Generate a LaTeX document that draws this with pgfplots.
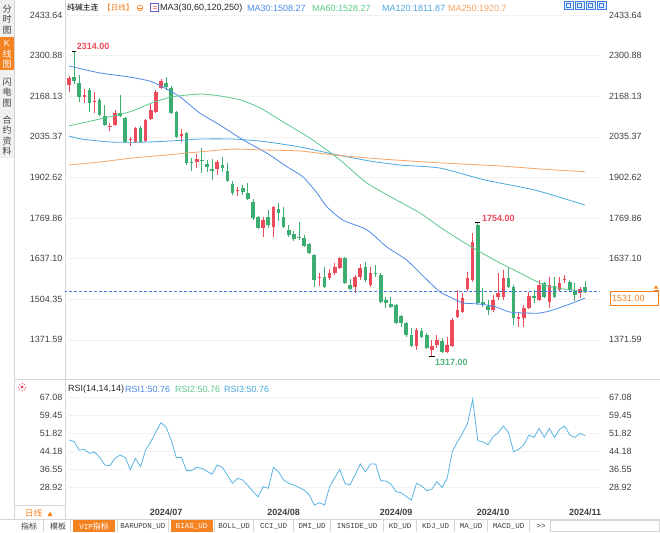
\documentclass[border=0pt]{standalone}
\usepackage{pgfplots}
\pgfplotsset{compat=1.18}
\usepackage{pgfplotstable}
\usepackage{fontspec}
\setmainfont{Liberation Sans}
\newfontfamily\cjk{Noto Sans CJK SC}
\newfontfamily\mono{Liberation Mono}

\definecolor{cred}{HTML}{EB4B5A}
\definecolor{cgreen}{HTML}{3DAE72}
\definecolor{cma30}{HTML}{4C8BE8}
\definecolor{cma60}{HTML}{5BC98B}
\definecolor{cma120}{HTML}{4AA8DE}
\definecolor{cma250}{HTML}{F5A465}
\definecolor{crsi}{HTML}{5BB5E3}
\definecolor{cline}{HTML}{3C7FE0}
\definecolor{corange}{HTML}{F58220}
\definecolor{ctick}{HTML}{404040}
\definecolor{cborder}{HTML}{D6D6D6}
\definecolor{cgrid}{HTML}{F2F2F2}
\definecolor{cside}{HTML}{F0F0F0}
\definecolor{cicon}{HTML}{6A5ACD}

% daily candles, index 0 = 2024-06-03
\pgfplotstableread{
i o h l c
0 2205 2234 2182 2228
1 2231 2314 2208 2218
2 2211 2237 2149 2166
3 2166 2192 2146 2172
4 2188 2195 2117 2146
5 2149 2182 2113 2152
6 2156 2162 2103 2107
7 2103 2139 2071 2074
8 2067 2081 2054 2071
9 2074 2123 2071 2113
10 2113 2172 2100 2103
11 2097 2100 2015 2018
12 2025 2035 2005 2028
13 2018 2067 2015 2064
14 2064 2071 2015 2018
15 2022 2094 2018 2090
16 2094 2146 2090 2123
17 2117 2188 2113 2182
18 2195 2224 2192 2218
19 2211 2231 2188 2198
20 2195 2201 2110 2113
21 2117 2120 2031 2035
22 2038 2061 2018 2045
23 2048 2051 1943 1950
24 1953 1966 1924 1950
25 1953 1979 1933 1963
26 1960 1999 1917 1956
27 1946 1960 1920 1937
28 1930 1963 1894 1924
29 1930 1960 1910 1953
30 1943 1969 1920 1933
31 1924 1950 1888 1891
32 1881 1891 1845 1852
33 1858 1871 1842 1861
34 1868 1878 1845 1855
35 1852 1884 1829 1832
36 1822 1832 1763 1770
37 1773 1776 1734 1737
38 1737 1773 1708 1763
39 1773 1796 1737 1747
40 1740 1809 1708 1806
41 1799 1819 1760 1786
42 1773 1806 1737 1740
43 1731 1747 1708 1714
44 1718 1727 1695 1701
45 1708 1757 1698 1704
46 1704 1714 1675 1678
47 1685 1688 1652 1655
48 1649 1652 1544 1567
49 1574 1590 1547 1577
50 1577 1610 1541 1544
51 1574 1603 1567 1590
52 1590 1623 1585 1610
53 1606 1642 1603 1639
54 1639 1642 1554 1557
55 1551 1570 1534 1538
56 1544 1583 1525 1577
57 1577 1619 1567 1606
58 1610 1626 1561 1567
59 1551 1610 1544 1590
60 1590 1616 1577 1587
61 1583 1590 1492 1495
62 1502 1512 1476 1492
63 1489 1512 1476 1479
64 1485 1489 1423 1427
65 1449 1453 1413 1427
66 1427 1430 1381 1387
67 1387 1410 1348 1351
68 1351 1410 1338 1404
69 1400 1410 1377 1381
70 1387 1394 1341 1345
71 1338 1371 1317 1351
72 1354 1387 1345 1371
73 1368 1377 1328 1332
74 1332 1381 1328 1354
75 1351 1443 1348 1436
76 1446 1534 1443 1469
77 1462 1525 1459 1508
78 1538 1593 1531 1574
79 1567 1721 1561 1691
80 1747 1754 1485 1492
81 1495 1541 1479 1489
82 1482 1502 1453 1469
83 1469 1518 1462 1502
84 1511 1590 1502 1525
85 1511 1600 1502 1574
86 1574 1606 1541 1544
87 1544 1551 1420 1443
88 1440 1462 1413 1446
89 1443 1485 1413 1476
90 1476 1528 1472 1515
91 1515 1534 1492 1508
92 1502 1567 1498 1551
93 1557 1561 1508 1512
94 1495 1577 1476 1551
95 1548 1577 1508 1512
96 1534 1577 1528 1557
97 1567 1583 1557 1570
98 1561 1567 1528 1534
99 1534 1557 1498 1518
100 1525 1544 1508 1538
101 1544 1564 1525 1531
}\kdata

\pgfplotstableread{
i r
0 49.0
1 48.3
2 44.7
3 45.0
4 43.3
5 43.9
6 41.6
7 38.4
8 38.1
9 41.2
10 42.6
11 41.6
12 36.4
13 41.2
14 37.7
15 44.7
16 48.2
17 52.5
18 56.3
19 54.4
20 49.0
21 41.6
22 41.6
23 36.0
24 36.0
25 37.4
26 37.0
27 35.7
28 34.5
29 38.4
30 37.4
31 34.0
32 30.6
33 32.7
34 32.0
35 29.7
36 27.1
37 24.9
38 29.2
39 28.5
40 37.4
41 35.5
42 32.0
43 30.6
44 29.9
45 28.8
46 27.8
47 25.7
48 21.4
49 22.4
50 21.4
51 29.2
52 33.0
53 36.5
54 30.6
55 29.9
56 34.3
57 38.8
58 35.5
59 38.8
60 38.8
61 31.7
62 31.6
63 30.3
64 27.1
65 26.6
66 25.0
67 23.5
68 30.6
69 29.5
70 27.5
71 28.1
72 31.3
73 28.9
74 32.7
75 44.0
76 48.2
77 51.8
78 56.1
79 66.2
80 48.7
81 48.2
82 46.9
83 50.4
84 52.1
85 54.9
86 52.1
87 44.0
88 45.0
89 46.9
90 51.1
91 50.1
92 53.9
93 50.1
94 53.9
95 50.1
96 53.5
97 54.9
98 51.1
99 50.1
100 51.8
101 50.76
}\rsidata

\pgfplotsset{
  panel/.style={scale only axis, width=535pt, xmin=-0.783, xmax=103.914,
    axis line style={draw=none}, tick style={draw=none}, major tick length=0pt,
    xtick=\empty, clip mode=individual,
    yticklabel style={font=\fontsize{9}{10}\selectfont, text=ctick, inner sep=0pt}},
  leftlab/.style={yticklabel pos=left, yticklabel style={anchor=east, xshift=-2.5pt},
    ymajorgrids, major grid style={cgrid, line width=0.5pt}},
  rightlab/.style={yticklabel pos=right, yticklabel style={anchor=west, xshift=9pt}},
  mainpanel/.style={panel, at={(65pt,-5pt)}, anchor=north west, height=371pt,
    ymin=1253.1, ymax=2466.3,
    ytick={1371.59,1504.35,1637.10,1769.86,1902.62,2035.37,2168.13,2300.88,2433.64},
    yticklabels={1371.59,1504.35,1637.10,1769.86,1902.62,2035.37,2168.13,2300.88,2433.64}},
  rsipanel/.style={panel, at={(65pt,-382pt)}, anchor=north west, height=125pt,
    ymin=20.57, ymax=73.57,
    ytick={28.92,36.55,44.18,51.82,59.45,67.08},
    yticklabels={28.92,36.55,44.18,51.82,59.45,67.08}},
  wick/.style={draw=none, mark=none, forget plot,
    error bars/.cd, y dir=plus, y explicit, error mark=none,
    error bar style={draw=#1, line width=0.9pt, solid}},
  body/.style={draw=none, mark=none, forget plot,
    error bars/.cd, y dir=plus, y explicit, error mark=none,
    error bar style={draw=#1, line width=3.6pt, solid}},
  isred/.style={restrict expr to domain={\thisrow{c}-\thisrow{o}}{0.5:100000}},
  isgreen/.style={restrict expr to domain={\thisrow{c}-\thisrow{o}}{-100000:-0.5}},
}

\begin{document}
\begin{tikzpicture}
\begin{scope}[x=1pt,y=-1pt]
\path[use as bounding box] (0,0) rectangle (660,532);
\fill[white] (0,0) rectangle (660,532);
% side bar
\fill[cside] (0,0) rectangle (14,158);
\fill[corange] (0,37) rectangle (14,70);
\draw[cborder] (14.5,0) -- (14.5,519);
\draw[cborder] (65.5,0) -- (65.5,519);
\draw[cborder] (14,379.5) -- (660,379.5);
\draw[cborder] (14,505.5) -- (65.5,505.5);
\draw[cborder] (0,519.5) -- (660,519.5);
\begin{scope}[every node/.style={font=\cjk\fontsize{9}{9}\selectfont, text=ctick, inner sep=0pt}]
\node at (7,9) {分}; \node at (7,19.5) {时}; \node at (7,30) {图};
\node[text=white, font=\fontsize{9}{9}\selectfont] at (7,43.5) {K};
\node[text=white] at (7,54) {线}; \node[text=white] at (7,64.5) {图};
\node at (7,82) {闪}; \node at (7,92.5) {电}; \node at (7,103) {图};
\node at (7,120) {合}; \node at (7,130.5) {约}; \node at (7,141) {资}; \node at (7,151.5) {料};
\end{scope}
% header
\node[anchor=west, inner sep=0pt, font=\cjk\fontsize{7.8}{8}\selectfont] at (67,8) {纯碱主连};
\node[anchor=west, inner sep=0pt, text=corange, font=\cjk\fontsize{7.6}{8}\selectfont] at (103,8) {【日线】};
\draw[corange, line width=0.6pt] (140,8) circle (2.8);
\draw[corange, line width=0.6pt] (138.3,8) -- (141.7,8);
\draw[cicon, line width=1pt, fill=white] (150.5,3.5) rectangle (158.5,12);
\fill[cred!60] (152.5,6) rectangle (156.5,7); \fill[cred!60] (152.5,8.5) rectangle (156.5,9.5);
\begin{scope}[every node/.style={anchor=west, inner sep=0pt, font=\fontsize{9}{10}\selectfont}]
\node[text=black!85] at (160,8) {MA3(30,60,120,250)};
\node[text=cma30] at (247,8) {MA30:1508.27};
\node[text=cma60] at (312,8) {MA60:1528.27};
\node[text=cma120] at (382,8) {MA120:1811.87};
\node[text=cma250] at (448,8) {MA250:1920.7};
\end{scope}
\foreach \xx in {564,575,586,597}{
  \draw[cline, fill=cline!15, line width=0.6pt] (\xx,1.5) rectangle ++(9,8);
  \draw[cline, line width=0.6pt] (\xx+2.5,3.5) rectangle ++(4,4);
}
% RSI header
\begin{scope}[shift={(22,387)}]
\fill[cred] (0,0) circle (1.6);
\foreach \a in {0,45,...,315} \draw[cred, line width=0.6pt] (\a:2.6) -- (\a:4.3);
\end{scope}
\begin{scope}[every node/.style={anchor=west, inner sep=0pt, font=\fontsize{9}{10}\selectfont}]
\node[text=black!85] at (68,389) {RSI(14,14,14)};
\node[text=cma30] at (125,389) {RSI1:50.76};
\node[text=cma60] at (175,389) {RSI2:50.76};
\node[text=cma120] at (224,389) {RSI3:50.76};
\end{scope}
% bottom left
\node[anchor=west, inner sep=0pt, text=corange, font=\cjk\fontsize{8.5}{9}\selectfont] at (25,513.5) {日线};
\fill[corange] (47.5,516) -- (52.5,516) -- (50,511.5) -- cycle;
% tab bar
\fill[corange] (73,520) rectangle (115,532);
\fill[corange] (170.5,520) rectangle (212.5,532);
\foreach \xx in {43.5,70.5,117.5,168.5,214.5,253.5,293.5,330.5,383.5,416.5,454.5,487.5,529.5,550.5}
  \draw[cborder] (\xx,520) -- (\xx,532);
\draw[cborder] (550.5,520.5) rectangle (659.5,531.5);
\begin{scope}[every node/.style={inner sep=0pt, text=ctick, font=\mono\fontsize{7.5}{8}\selectfont}]
\node[font=\cjk\fontsize{8}{8}\selectfont] at (29,526) {指标};
\node[font=\cjk\fontsize{8}{8}\selectfont] at (58,526) {模板};
\node[text=white] at (94,526) {VIP{\cjk\fontsize{8}{8}\selectfont 指标}};
\node at (143,526) {BARUPDN\_UD};
\node[text=white] at (191.5,526) {BIAS\_UD};
\node at (234,526) {BOLL\_UD};
\node at (273.5,526) {CCI\_UD};
\node at (312,526) {DMI\_UD};
\node at (357,526) {INSIDE\_UD};
\node at (400,526) {KD\_UD};
\node at (435.5,526) {KDJ\_UD};
\node at (471,526) {MA\_UD};
\node at (508.5,526) {MACD\_UD};
\node at (541,526) {>>};
\end{scope}
\end{scope}

% main price panel
\begin{axis}[mainpanel, leftlab]
\addplot[isred, wick=cred]
  table[x=i, y=l, y error expr=\thisrow{h}-\thisrow{l}] {\kdata};
\addplot[isgreen, wick=cgreen]
  table[x=i, y=l, y error expr=\thisrow{h}-\thisrow{l}] {\kdata};
\addplot[isred, body=cred]
  table[x=i, y expr={min(\thisrow{o},\thisrow{c})}, y error expr={max(abs(\thisrow{c}-\thisrow{o}),3)}] {\kdata};
\addplot[isgreen, body=cgreen]
  table[x=i, y expr={min(\thisrow{o},\thisrow{c})}, y error expr={max(abs(\thisrow{c}-\thisrow{o}),3)}] {\kdata};
% moving averages
\addplot[cma30, line width=0.8pt, smooth, tension=0.4] coordinates {
(0,2267) (2.5,2257) (6.1,2244) (11.7,2231) (15.7,2218) (18.4,2198) (21.7,2166)
(25.6,2113) (29.5,2074) (34.1,2025) (38.7,1982) (42.7,1937) (45.8,1904) (48.5,1852)
(50.5,1806) (53.6,1763) (58.3,1731) (62.2,1675) (66.1,1632) (70.1,1567) (72.6,1528)
(74.6,1511) (77.1,1492) (79.8,1489) (83,1482) (86.3,1462) (89.6,1459) (92.2,1459)
(94.7,1469) (98.6,1492) (101,1508)};
\addplot[cma60, line width=0.8pt, smooth, tension=0.4] coordinates {
(0,2071) (5.1,2090) (11.7,2116) (16.2,2146) (20.2,2166) (25.6,2175) (29.5,2169)
(33.5,2156) (37.4,2130) (41.3,2090) (45.2,2051) (47.7,2025) (53,1960) (58.3,1884)
(64.8,1822) (68.7,1786) (72.6,1740) (76.5,1698) (79.8,1665) (84.3,1623) (87.9,1593)
(91.8,1560) (94.5,1544) (101,1528)};
\addplot[cma120, line width=0.8pt, smooth, tension=0.4] coordinates {
(0,2038) (2.5,2028) (8.4,2018) (14.9,2018) (20.2,2022) (25.6,2028) (31.9,2028)
(37,2022) (40.3,2015) (45.2,2002) (51.7,1979) (58.9,1956) (64.8,1943) (72.6,1933)
(81.4,1894) (91.2,1861) (101,1812)};
\addplot[cma250, line width=0.8pt, smooth, tension=0.4] coordinates {
(0,1943) (6.1,1953) (12.5,1966) (19.2,1976) (25.6,1986) (31.9,1995) (38.4,1992)
(45.2,1989) (51.7,1976) (60.9,1963) (72.6,1950) (84.3,1940) (92.2,1930) (101,1921)};
% last price
\addplot[cline, line width=0.7pt, dash pattern=on 3pt off 2pt] coordinates {(-1,1531) (104,1531)};
% extremes
\draw[black, line width=0.7pt] (axis cs:0.6,2314) -- (axis cs:1.4,2314);
\draw[black, line width=0.7pt] (axis cs:79.5,1754) -- (axis cs:80.5,1754);
\draw[black, line width=0.7pt] (axis cs:70.5,1317) -- (axis cs:71.6,1317);
\node[anchor=south west, inner sep=0pt, text=cred, font=\bfseries\fontsize{9}{10}\selectfont,
  xshift=2.5pt, yshift=1.5pt] at (axis cs:1,2314) {2314.00};
\node[anchor=south west, inner sep=0pt, text=cred, font=\bfseries\fontsize{9}{10}\selectfont,
  xshift=4pt, yshift=1.5pt] at (axis cs:80,1754) {1754.00};
\node[anchor=north west, inner sep=0pt, text=cma60!90!black, font=\bfseries\fontsize{9}{10}\selectfont,
  xshift=3pt, yshift=-3pt] at (axis cs:71,1317) {1317.00};
\end{axis}
\begin{axis}[mainpanel, rightlab,
  ytick={1371.59,1637.10,1769.86,1902.62,2035.37,2168.13,2300.88,2433.64},
  yticklabels={1371.59,1637.10,1769.86,1902.62,2035.37,2168.13,2300.88,2433.64}]
\addplot[draw=none] coordinates {(0,1500)};
\end{axis}

% RSI panel
\begin{axis}[rsipanel, leftlab,
  xtick={19,42,64,83,101},
  xticklabels={2024/07,2024/08,2024/09,2024/10,2024/11},
  xticklabel style={font=\bfseries\fontsize{9}{10}\selectfont, text=ctick, inner sep=0pt, anchor=north, yshift=-1.5pt}]
\addplot[crsi, line width=0.8pt] table[x=i, y=r] {\rsidata};
\end{axis}
\begin{axis}[rsipanel, rightlab]
\addplot[draw=none] coordinates {(0,40)};
\end{axis}

\begin{scope}[x=1pt,y=-1pt]
\draw[corange, fill=white, line width=0.6pt] (610,291.5) rectangle (658,305);
\node[anchor=west, inner sep=0pt, text=corange, font=\fontsize{9}{10}\selectfont] at (612,298.5) {1531.00};
\fill[corange] (653.5,288.5) -- (658.5,288.5) -- (656,285.5) -- cycle;
\draw[corange, line width=0.6pt] (653.5,290) -- (658.5,290);
\end{scope}
\end{tikzpicture}
\end{document}
